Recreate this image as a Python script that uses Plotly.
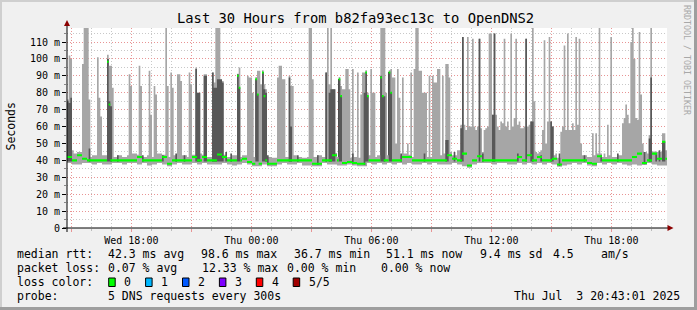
import datetime as dt
import plotly.graph_objects as go

# ---------------- data ----------------
T0 = dt.datetime(2025, 7, 2, 14, 47)
N_STEPS = 360            # 5-minute steps over 30 hours
STEP_MIN = 5
Y_MAX = 118.3

# baseline, one value per 15-minute bin (3 steps)
med_bins = [42, 40, 43, 41, 40, 40, 40, 40, 40, 40,
            40, 40, 40, 40, 42, 40, 40, 40, 40, 42,
            38, 40, 40, 40, 40, 42, 40, 42, 40, 40,
            43.5, 42, 40, 40, 40, 41, 39, 38, 38, 40,
            38, 38, 40, 40, 40, 40, 40, 40, 40, 38,
            38, 40, 40, 43, 40, 38.5, 39, 38.5, 38, 38,
            40, 40, 40, 40, 40, 40, 40, 42, 42, 40,
            40, 40, 40, 40, 40, 40, 43, 41, 40, 44,
            37, 40, 42.5, 40, 40, 40, 40, 40, 40, 40,
            42, 40, 43, 40, 42, 40, 40, 41, 37.5, 40,
            40, 40, 40, 40, 38.5, 38, 42.5, 40, 40, 40,
            40, 40, 40, 42, 44, 38.5, 40, 44, 41, 41]
base_hi_bins = [43, 44, 45, 43, 42, 43, 42, 43, 44, 42,
                43, 42, 43, 44, 42, 42, 43, 42, 44, 43,
                42, 43, 44, 43, 42, 43, 44, 43, 42, 43,
                45, 43, 42, 43, 42, 43, 44, 42, 41.5, 42,
                42, 41.5, 43, 42, 42, 43, 42, 41.5, 42, 42,
                43, 42, 44, 43, 42, 41.5, 41.5, 42, 41.5, 42,
                43, 42, 43, 44, 43, 42, 43, 44, 43, 42,
                42, 43, 42, 42, 43, 44, 45, 43, 46, 45,
                43, 44, 43, 42, 42, 43, 44, 43, 42, 43,
                44, 43, 45, 43, 44, 43, 42, 43, 41.5, 42,
                43, 42, 42, 43, 42, 43, 44, 42, 43, 42,
                43, 44, 45, 44, 43, 45, 44, 43, 45, 46]
base_lo_bins = [38.5, 37.5, 37.5, 38.5, 38.5, 37.5, 38.5, 37.5, 37.5, 38.5,
                38.5, 37.5, 38.5, 38.5, 37.5, 38.5, 37, 37.5, 38.5, 37.5,
                36.5, 37.5, 38.5, 37.5, 37.5, 38.5, 37.5, 38.5, 37.5, 37.5,
                37.5, 38.5, 37.5, 37, 37.5, 38.5, 37.5, 36.5, 36.5, 37.5,
                36.5, 36.5, 37.5, 38.5, 37.5, 37.5, 38.5, 37, 37, 36.5,
                36.5, 38.5, 37.5, 37.5, 37, 37, 37.5, 37, 36.5, 36.5,
                38.5, 37.5, 38.5, 37.5, 38.5, 37.5, 38.5, 37.5, 38.5, 37.5,
                37.5, 38.5, 37.5, 38.5, 37.5, 37.5, 37.5, 38.5, 37.5, 36.5,
                36, 37.5, 38.5, 38.5, 38.5, 37.5, 38.5, 38.5, 37.5, 37.5,
                38.5, 37.5, 38.5, 37.5, 38.5, 37.5, 38.5, 37.5, 36.5, 37,
                37.5, 38.5, 37.5, 38.5, 37, 36.5, 38.5, 37.5, 38.5, 37.5,
                38.5, 37.5, 37, 37.5, 37, 37.5, 38.5, 37.5, 37, 37]

# outer smoke (max ping) per step
light_steps = [0, 1, 2, 3, 9, 10, 11, 12, 13, 18, 19, 20, 24, 25, 26, 27, 37, 38, 43, 44,
               49, 50, 52, 53, 59, 60, 62, 63, 66, 67, 68, 73, 74, 77, 78, 82, 83, 87, 88, 89,
               90, 91, 92, 93, 102, 103, 108, 109, 110, 111, 113, 114, 115, 116, 117, 118, 119, 126, 127, 128,
               129, 130, 133, 134, 135, 145, 146, 147, 155, 156, 157, 158, 159, 160, 163, 164, 165, 166, 167, 168,
               169, 171, 174, 176, 177, 178, 179, 180, 182, 183, 184, 188, 189, 190, 191, 193, 194, 195, 196, 197,
               198, 199, 201, 204, 206, 208, 209, 210, 211, 212, 213, 214, 215, 217, 219, 220, 221, 222, 223, 225,
               227, 228, 229, 236, 237, 238, 239, 240, 241, 242, 243, 244, 245, 246, 247, 248, 249, 250, 251, 252,
               253, 254, 255, 256, 257, 258, 259, 260, 261, 262, 263, 264, 265, 266, 267, 268, 269, 270, 271, 272,
               273, 274, 275, 276, 277, 278, 279, 280, 281, 282, 283, 284, 285, 286, 287, 288, 289, 290, 291, 293,
               296, 297, 298, 299, 300, 301, 302, 303, 304, 305, 306, 307, 308, 315, 317, 319, 322, 324, 326, 333,
               334, 335, 336, 337, 338, 339, 340, 341, 342, 343, 344, 345, 349, 350, 352, 357, 358]
light_tops = [76, 102, 100, 46, 97, 125, 125, 125, 76, 101, 77, 66, 102.5, 96, 96, 83, 91, 84, 96, 84,
              93, 67, 84, 79, 125, 84, 92, 83, 91, 91, 87, 92, 85, 95, 80, 91, 91, 92, 86, 125,
              125, 125, 87, 87, 91, 95, 90, 89, 89, 80, 88, 93, 93, 85, 92, 85, 82, 89, 96, 96,
              88, 88, 90, 84, 84, 125, 125, 88, 92, 125, 85, 125, 82, 82, 88, 84, 82, 82, 94, 94,
              82, 94, 92, 79, 92, 92, 92, 80, 94, 80, 80, 125, 125, 125, 80, 92, 94, 89, 89, 50,
              94, 77, 89, 50, 92, 94, 125, 125, 93, 93, 80, 80, 80, 90, 90, 86, 86, 94, 94, 90,
              97, 97, 89, 61, 113, 61, 58, 113, 60, 60, 112, 60, 58, 60, 112, 59, 45, 58, 59, 60,
              115, 115, 67, 115, 67, 60, 58, 63, 62, 112, 60, 63, 58, 115, 60, 65, 112, 61, 63, 59,
              59, 60, 112, 60, 61, 63, 125, 75, 45, 44, 45, 46, 58, 111, 50, 63, 113, 63, 60, 44,
              57, 60, 108, 58, 115, 58, 58, 62, 58, 113, 61, 112, 50, 56, 56, 125, 44, 61, 113, 62,
              65, 73, 67, 62, 110, 125, 100, 65, 64, 116, 79, 50, 55, 125, 45, 56, 56]

# inner smoke (2nd..4th ping) per step
dark_steps = [0, 1, 2, 13, 24, 25, 26, 30, 45, 57, 65, 70, 77, 78, 79, 82, 83, 87, 88, 89,
              90, 91, 92, 93, 95, 98, 102, 103, 113, 114, 117, 118, 119, 120, 133, 134, 138, 150, 155, 157,
              158, 159, 160, 163, 164, 171, 178, 179, 180, 188, 189, 190, 193, 194, 200, 214, 227, 228, 232, 236,
              237, 247, 249, 255, 256, 270, 275, 278, 279, 284, 290, 291, 295, 310, 320, 330, 346, 349, 350, 353,
              355, 357, 358]
dark_tops = [75, 74, 77, 47, 100, 75, 72, 43, 43, 43, 44, 43, 94, 80, 80, 90, 90, 92, 83, 83,
             88, 88, 88, 86, 45, 44, 91, 83, 88, 79, 92, 82, 80, 43, 89, 60, 43, 43, 92, 80,
             82, 82, 82, 88, 78, 44, 80, 92, 78, 90, 78, 78, 92, 80, 44, 44, 52, 52, 45, 59,
             113, 112, 44, 67, 115, 44, 112, 63, 63, 43, 63, 60, 44, 43, 43, 44, 45, 53, 89, 44,
             46, 51, 51]

# darkest core of the big excursions
black_steps = [24, 102, 113, 117, 163, 179, 188, 193]
black_tops = [100, 91, 88, 92, 88, 92, 90, 92]

# median where it leaves the baseline
medhi_steps = [24, 25, 102, 103, 113, 114, 117, 118, 163, 164, 179, 180, 188, 189, 193, 194, 357, 358]
medhi_vals = [98.4, 73, 90, 83, 88, 79, 92, 78, 88, 78, 92, 78, 89, 78, 92, 80, 51, 51]

# median steps with packet loss (loss colour)
loss_steps = [228]
loss_meds = [41]
loss_colors = ['#00b8ff']

y_tick_vals = [0, 10, 20, 30, 40, 50, 60, 70, 80, 90, 100, 110]
y_tick_text = ['0', '10 m', '20 m', '30 m', '40 m', '50 m', '60 m', '70 m', '80 m', '90 m', '100 m', '110 m']
x_tick_vals = ['2025-07-02 15:00', '2025-07-02 18:00', '2025-07-02 21:00', '2025-07-03 00:00',
               '2025-07-03 03:00', '2025-07-03 06:00', '2025-07-03 09:00', '2025-07-03 12:00',
               '2025-07-03 15:00', '2025-07-03 18:00']
x_tick_text = ['', 'Wed 18:00', '', 'Thu 00:00', '', 'Thu 06:00', '', 'Thu 12:00', '', 'Thu 18:00']

title_text = 'Last 30 Hours from b82fa93ec13c to OpenDNS2'
legend_rows = [
    [('median rtt:', 16), ('42.3 ms avg', 107.3), ('98.6 ms max', 200.3), ('36.7 ms min', 293.3),
     ('51.1 ms now', 384.7), ('9.4 ms sd', 479.3), ('4.5', 552), ('am/s', 600)],
    [('packet loss:', 16), ('0.07 % avg', 107.3), ('12.33 % max', 201), ('0.00 % min', 286),
     ('0.00 % now', 380)],
    [('loss color:', 16)],
    [('probe:', 16), ('5 DNS requests every 300s', 107.3)],
]
loss_legend = [('0', '#00ff00'), ('1', '#00b8ff'), ('2', '#0059ff'),
               ('3', '#7e00ff'), ('4', '#ff0000'), ('5/5', '#a10000')]
stamp_text = 'Thu Jul  3 20:43:01 2025'
watermark = 'RRDTOOL / TOBI OETIKER'

# ---------------- build per-step series ----------------
edges = [T0 + dt.timedelta(minutes=STEP_MIN * i) for i in range(N_STEPS + 1)]
centers = [T0 + dt.timedelta(minutes=STEP_MIN * i + STEP_MIN / 2) for i in range(N_STEPS)]

med = [med_bins[i // 3] for i in range(N_STEPS)]
for s, v in zip(medhi_steps, medhi_vals):
    med[s] = v
lo = [min(base_lo_bins[i // 3], med[i] - 1.3) for i in range(N_STEPS)]
hi = [max(base_hi_bins[i // 3], med[i] + 1.3) for i in range(N_STEPS)]
for s, v in zip(light_steps, light_tops):
    hi[s] = max(hi[s], v)
dlo = [40.0] * N_STEPS
dhi = [40.0] * N_STEPS
for s, v in zip(dark_steps, dark_tops):
    dlo[s] = min(39.3, med[s] - 0.8)
    dhi[s] = v


def ext(a):
    return list(a) + [a[-1]]


fig = go.Figure()


def band(low, high, color):
    fig.add_trace(go.Scatter(x=edges, y=ext(low), mode='lines', line=dict(width=0, shape='hv'),
                             hoverinfo='skip', showlegend=False))
    fig.add_trace(go.Scatter(x=edges, y=ext(high), mode='lines', line=dict(width=0, shape='hv'),
                             fill='tonexty', fillcolor=color, hoverinfo='skip', showlegend=False))


band(lo, hi, '#a6a6a6')
band(dlo, dhi, '#585858')

fig.add_trace(go.Bar(x=[centers[s] for s in black_steps], y=[t - 40 for t in black_tops],
                     base=[40] * len(black_steps), width=STEP_MIN * 60000 * 0.9,
                     marker=dict(color='#1c1c1c', line=dict(width=0)), hoverinfo='skip', showlegend=False))

band([m - 0.6 for m in med], [m + 0.6 for m in med], '#00ff00')

fig.add_trace(go.Bar(x=[centers[s] for s in loss_steps], y=[1.2] * len(loss_steps),
                     base=[m - 0.6 for m in loss_meds], width=STEP_MIN * 60000,
                     marker=dict(color=loss_colors, line=dict(width=0)), hoverinfo='skip', showlegend=False))

# ---------------- layout ----------------
L, R, T, B = 67, 667, 28, 228
MONO = 'DejaVu Sans Mono'


def PX(px):
    return (px - L) / (R - L)


def PY(py):
    return (B - py) / (B - T)


GRID = '#c8c8c8'
MGRID = '#e89494'

fig.update_layout(
    width=697, height=310, autosize=False,
    margin=dict(l=L, r=697 - R, t=T, b=310 - B, pad=0),
    paper_bgcolor='#f0f0f0', plot_bgcolor='#ffffff',
    showlegend=False, barmode='overlay', bargap=0,
    font=dict(family=MONO, size=10, color='#000000'),
    xaxis=dict(type='date', range=[edges[0], edges[-1]], tickvals=x_tick_vals, ticktext=x_tick_text,
               showgrid=True, gridcolor=MGRID, griddash='1px,2px', gridwidth=1,
               ticks='outside', ticklen=3, tickcolor=MGRID, showline=False, zeroline=False,
               tickfont=dict(family=MONO, size=10),
               minor=dict(dtick=3600000, tick0='2025-07-02 15:00', showgrid=True, gridcolor=GRID,
                          griddash='1px,2px', ticks='outside', ticklen=2, tickcolor='#bbbbbb')),
    yaxis=dict(range=[0, Y_MAX], tickvals=y_tick_vals, ticktext=y_tick_text,
               showgrid=True, gridcolor=MGRID, griddash='1px,2px', gridwidth=1,
               ticks='outside', ticklen=4, tickcolor='#000000', showline=False, zeroline=False,
               tickfont=dict(family=MONO, size=10),
               minor=dict(dtick=5, showgrid=True, gridcolor=GRID, griddash='1px,2px',
                          ticks='outside', ticklen=2, tickcolor='#888888')),
)

shapes = []
# frame
shapes.append(dict(type='rect', xref='paper', yref='paper', x0=PX(0), x1=PX(697), y0=PY(0), y1=PY(2),
                   fillcolor='#cfcfcf', line=dict(width=0), layer='above'))
shapes.append(dict(type='rect', xref='paper', yref='paper', x0=PX(0), x1=PX(2), y0=PY(0), y1=PY(310),
                   fillcolor='#cfcfcf', line=dict(width=0), layer='above'))
shapes.append(dict(type='rect', xref='paper', yref='paper', x0=PX(0), x1=PX(697), y0=PY(307), y1=PY(310),
                   fillcolor='#9e9e9e', line=dict(width=0), layer='above'))
shapes.append(dict(type='rect', xref='paper', yref='paper', x0=PX(694), x1=PX(697), y0=PY(0), y1=PY(310),
                   fillcolor='#9e9e9e', line=dict(width=0), layer='above'))
# axes
shapes.append(dict(type='line', xref='paper', yref='paper', x0=PX(63), x1=PX(669), y0=0, y1=0,
                   line=dict(color='#000000', width=1), layer='above'))
shapes.append(dict(type='line', xref='paper', yref='paper', x0=0, x1=0, y0=PY(232), y1=PY(24),
                   line=dict(color='#000000', width=1), layer='above'))
shapes.append(dict(type='path', xref='paper', yref='paper',
                   path=f'M {PX(667.5)},{PY(225)} L {PX(673.5)},{PY(228)} L {PX(667.5)},{PY(231)} Z',
                   fillcolor='#8b0000', line=dict(width=0), layer='above'))
shapes.append(dict(type='path', xref='paper', yref='paper',
                   path=f'M {PX(64)},{PY(26)} L {PX(67)},{PY(20)} L {PX(70)},{PY(26)} Z',
                   fillcolor='#8b0000', line=dict(width=0), layer='above'))

annotations = []


def txt(text, px, py, size=11.5, anchor='left', color='#000000', angle=0):
    annotations.append(dict(text=text.replace(' ', '\u00a0'), x=PX(px), y=PY(py), xref='paper', yref='paper',
                            xanchor=anchor, yanchor='middle', showarrow=False, textangle=angle,
                            font=dict(family=MONO, size=size, color=color), borderpad=0))


txt(title_text, 176, 18.5, size=13.8)
row_y = [254.3, 268.3, 282, 296]
for row, y in zip(legend_rows, row_y):
    for t, x in row:
        txt(t, x, y)
for k, (lab, col) in enumerate(loss_legend):
    bx = 108.7 + 36.9 * k
    shapes.append(dict(type='rect', xref='paper', yref='paper', x0=PX(bx), x1=PX(bx + 6.5),
                       y0=PY(286.5), y1=PY(278), fillcolor=col, line=dict(color='#000000', width=1),
                       layer='above'))
    txt(lab, bx + 14.6, 282)
txt(stamp_text, 681, 296, anchor='right')
txt('Seconds', 10.5, 127, size=11.5, angle=-90, anchor='center')
txt(watermark, 687, 60, size=8.3, color='#a8a8a8', angle=90, anchor='center')

fig.update_layout(shapes=shapes, annotations=annotations)
fig.write_html('out.html')
